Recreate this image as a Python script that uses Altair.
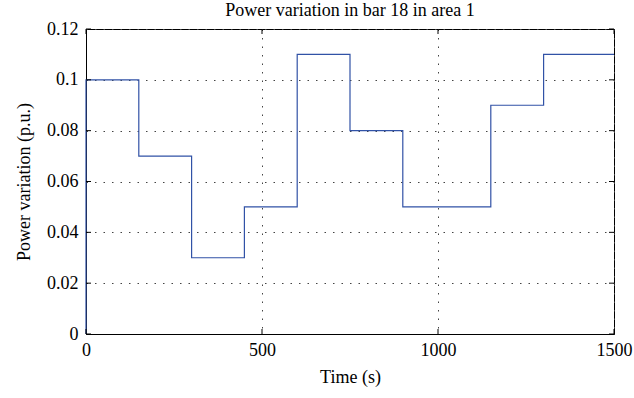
import altair as alt
import pandas as pd

# step data
times = [0, 0, 150, 300, 450, 600, 750, 900, 1150, 1300, 1500]
values = [0, 0.1, 0.07, 0.03, 0.05, 0.11, 0.08, 0.05, 0.09, 0.11, 0.11]
x_ticks = [0, 500, 1000, 1500]
y_ticks = [0, 0.02, 0.04, 0.06, 0.08, 0.1, 0.12]

W, H = 528, 305
FONT = "Liberation Serif"

df = pd.DataFrame({"t": times, "v": values})
xt = pd.DataFrame({"t": x_ticks})
yt = pd.DataFrame({"v": y_ticks})

xscale = alt.Scale(domain=[0, 1500], nice=False, zero=False)
yscale = alt.Scale(domain=[0, 0.12], nice=False)

GRID = dict(grid=True, gridDash=[1.5, 7], gridColor="#444", gridOpacity=1, gridWidth=1)

line = alt.Chart(df).mark_line(interpolate="step-after", color="#3152a6", strokeWidth=1.2).encode(
    x=alt.X("t:Q", scale=xscale, title="Time (s)",
            axis=alt.Axis(values=x_ticks, format="d", tickSize=0, labelPadding=7, titlePadding=9,
                          labelFlush=False, labelOverlap=False, **GRID)),
    y=alt.Y("v:Q", scale=yscale, title="Power variation (p.u.)",
            axis=alt.Axis(values=y_ticks, labelExpr="datum.value == 0 ? '0' : format(datum.value, '.2~f')",
                          tickSize=0, labelPadding=8, titlePadding=13, labelOverlap=False, **GRID)),
)

tb = alt.Chart(xt).mark_rule(color="black").encode(x=alt.X("t:Q", scale=xscale), y=alt.value(H), y2=alt.value(H - 5))
tt = alt.Chart(xt).mark_rule(color="black").encode(x=alt.X("t:Q", scale=xscale), y=alt.value(0), y2=alt.value(5))
tl = alt.Chart(yt).mark_rule(color="black").encode(y=alt.Y("v:Q", scale=yscale), x=alt.value(0), x2=alt.value(5))
tr = alt.Chart(yt).mark_rule(color="black").encode(y=alt.Y("v:Q", scale=yscale), x=alt.value(W), x2=alt.value(W - 5))

chart = alt.layer(line, tb, tt, tl, tr).properties(
    width=W, height=H,
    title=alt.TitleParams("Power variation in bar 18 in area 1", fontSize=18, font=FONT,
                          fontWeight="normal", color="black", offset=0),
    autosize=alt.AutoSizeParams(type="none"),
    padding={"left": 86, "top": 29, "right": 20, "bottom": 64},
).configure_axis(
    labelFont=FONT, titleFont=FONT, labelFontSize=18, titleFontSize=18,
    labelColor="black", titleColor="black", titleFontWeight="normal",
    domainColor="black", domainWidth=1,
).configure_view(stroke="black", strokeWidth=1)

chart.save("out.html", embed_options={"renderer": "svg", "actions": False})
